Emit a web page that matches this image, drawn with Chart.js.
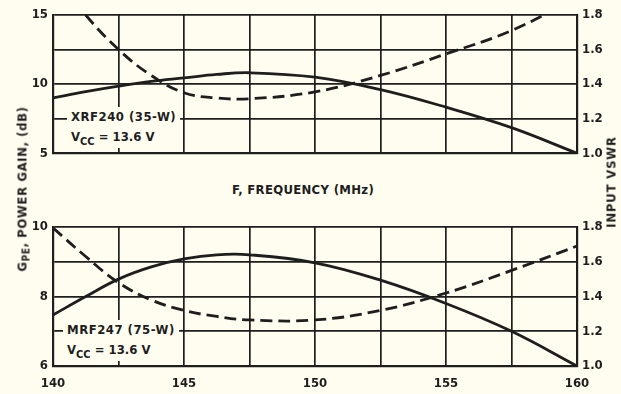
<!DOCTYPE html>
<html>
<head>
<meta charset="utf-8">
<script src="https://cdn.jsdelivr.net/npm/chart.js@4.4.0/dist/chart.umd.min.js"></script>
<style>
  html, body { margin: 0; padding: 0; background: #fffdf0; }
  body { width: 621px; height: 394px; position: relative; overflow: hidden;
         font-family: "DejaVu Sans Condensed", "DejaVu Sans", sans-serif; font-weight: bold; color: #1e1e1e; }
  canvas { position: absolute; left: 0; }
  #c1 { top: 0; }
  #c2 { top: 212px; }
  .lbl { position: absolute; font-size: 13px; white-space: nowrap; line-height: 20px; }
  .box { position: absolute; background: #fffdf0; padding: 0 4px; }
  .sub { font-size: 11px; position: relative; top: 4px; }
  .rot { position: absolute; transform: translate(-50%, -50%) rotate(-90deg); white-space: nowrap; font-size: 13px; }
</style>
</head>
<body>
<canvas id="c1" width="621" height="166"></canvas>
<canvas id="c2" width="621" height="182"></canvas>

<div class="lbl" style="left:232px; top:180px; letter-spacing:0.3px;">F, FREQUENCY (MHz)</div>
<div class="rot" style="left:22px; top:189px; letter-spacing:0.6px;">G<span class="sub" style="top:3px; font-size:10px;">PE</span>, POWER GAIN, (dB)</div>
<div class="rot" style="left:611px; top:182px; letter-spacing:0.8px;">INPUT VSWR</div>

<div class="box" style="left:67px; top:107px;">
  <div class="lbl" style="position:static; letter-spacing:0.5px;">XRF240 (35-W)</div>
  <div class="lbl" style="position:static;">V<span class="sub">CC</span> = 13.6 V</div>
</div>
<div class="box" style="left:63px; top:320px;">
  <div class="lbl" style="position:static; letter-spacing:0.5px;">MRF247 (75-W)</div>
  <div class="lbl" style="position:static;">V<span class="sub">CC</span> = 13.6 V</div>
</div>

<script>
// ---- data ----
const freqMHz = [140, 141.25, 142.5, 143.75, 145, 146.25, 147.5, 150, 152.5, 155, 157.5, 160];

// Top panel: XRF240 (35-W)
const xrf240Gain = [9.0, 9.45, 9.85, 10.2, 10.45, 10.7, 10.82, 10.5, 9.6, 8.33, 6.85, 5.0];
const xrf240Vswr = [2.05, 1.8, 1.6, 1.45, 1.35, 1.32, 1.315, 1.355, 1.45, 1.575, 1.71, 1.9];

// Bottom panel: MRF247 (75-W)
const mrf247Gain = [7.47, 8.0, 8.5, 8.85, 9.08, 9.2, 9.2, 8.97, 8.47, 7.8, 7.0, 6.0];
const mrf247Vswr = [1.795, 1.63, 1.48, 1.38, 1.32, 1.285, 1.265, 1.265, 1.32, 1.42, 1.55, 1.69];

const freqTickLabels = [140, 145, 150, 155, 160];
const topGainTickLabels = [5, 10, 15];
const bottomGainTickLabels = [6, 8, 10];
const vswrTickLabels = ["1.0", "1.2", "1.4", "1.6", "1.8"];

// ---- styling ----
const INK = '#1e1e1e';
const FONT = { family: '"DejaVu Sans Condensed", "DejaVu Sans", sans-serif', size: 13, weight: 'bold' };
const pts = (xs, ys) => xs.map((x, i) => ({ x, y: ys[i] }));

function makeChart(id, gain, vswr, gMin, gMax, gStep, gLabels, showX, xHeight) {
  return new Chart(document.getElementById(id), {
    type: 'line',
    data: {
      datasets: [
        { label: 'Gain', data: pts(freqMHz, gain), yAxisID: 'y', borderColor: INK, borderWidth: 2.8,
          pointRadius: 0, tension: 0.4, fill: false },
        { label: 'VSWR', data: pts(freqMHz, vswr), yAxisID: 'y1', borderColor: INK, borderWidth: 2.8,
          borderDash: [12, 6], pointRadius: 0, tension: 0.4, fill: false }
      ]
    },
    options: {
      responsive: false, animation: false, devicePixelRatio: 1,
      layout: { padding: { top: 15, left: 0, right: 0, bottom: 0 } },
      plugins: { legend: { display: false }, tooltip: { enabled: false } },
      scales: {
        x: {
          type: 'linear', min: 140, max: 160,
          afterBuildTicks: (s) => { s.ticks = [140,142.5,145,147.5,150,152.5,155,157.5,160].map(v => ({ value: v })); },
          afterFit: (s) => { s.height = xHeight; },
          grid: { color: INK, lineWidth: 1.7, drawTicks: false },
          border: { color: INK, width: 2.2 },
          ticks: { display: showX, color: INK, font: FONT, padding: 10, maxRotation: 0, autoSkip: false,
                   callback: (v) => freqTickLabels.includes(v) ? String(v) : '' }
        },
        y: {
          position: 'left', min: gMin, max: gMax,
          afterBuildTicks: (s) => { const t = []; for (let v = gMin; v <= gMax + 1e-9; v += gStep) t.push({ value: v }); s.ticks = t; },
          afterFit: (s) => { s.width = 53; },
          grid: { color: INK, lineWidth: 1.7, drawTicks: false },
          border: { color: INK, width: 2.2 },
          ticks: { color: INK, font: FONT, padding: 5, autoSkip: false,
                   callback: (v) => gLabels.includes(v) ? String(v) : '' }
        },
        y1: {
          position: 'right', min: 1.0, max: 1.8,
          afterBuildTicks: (s) => { s.ticks = [1.0,1.2,1.4,1.6,1.8].map(v => ({ value: v })); },
          afterFit: (s) => { s.width = 44; },
          grid: { drawOnChartArea: false, drawTicks: false },
          border: { color: INK, width: 2.2 },
          ticks: { color: INK, font: FONT, padding: 5, autoSkip: false,
                   callback: (v, i) => vswrTickLabels[i] }
        }
      }
    }
  });
}

makeChart('c1', xrf240Gain, xrf240Vswr, 5, 15, 2.5, topGainTickLabels, false, 11);
makeChart('c2', mrf247Gain, mrf247Vswr, 6, 10, 1, bottomGainTickLabels, true, 28);
</script>
</body>
</html>
